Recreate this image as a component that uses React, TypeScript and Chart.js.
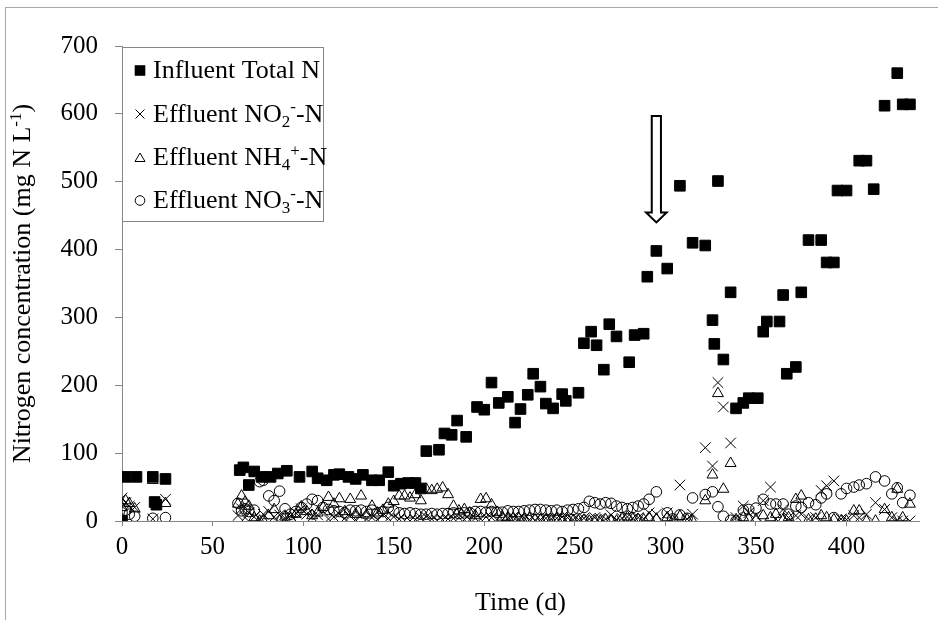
import React, { useEffect, useRef } from 'react';
import { Chart, registerables } from 'chart.js';

Chart.register(...registerables);

const FONT = "'Liberation Serif', 'Times New Roman', serif";

// Influent total nitrogen (day of operation, mg N/L)
const influentDays = [
  0, 2, 8, 17, 18, 19, 24,
  65, 67, 70, 73, 77, 82, 86, 91, 98, 105, 108, 113, 117, 120, 125, 129, 133, 138, 142, 147, 150, 154, 158, 162, 165,
  168, 175, 178, 182, 185, 190, 196, 200, 204, 208, 213, 217, 220, 224, 227, 231, 234, 238, 243, 245, 252,
  255, 259, 262, 266, 269, 273, 280, 283, 288,
  290, 295, 301, 308, 315, 322, 326, 327, 329, 332, 336,
  339, 343, 346, 351, 354, 356, 363, 365, 367, 372, 375,
  379, 386, 389, 393, 395, 400, 407, 411, 415, 421, 428, 431, 435,
];
const influentTotalN = [
  0, 65, 65, 65, 28, 24, 62,
  75, 79, 53, 73, 65, 65, 70, 74, 65, 73, 63, 60, 68, 69, 65, 62, 68, 60, 60, 72, 52, 55, 56, 56, 48,
  103, 105, 129, 127, 148, 124, 168, 164, 204, 174, 183, 145, 165, 186, 217, 198, 173, 166, 187, 177, 189,
  262, 279, 259, 223, 290, 272, 234, 274, 276,
  360, 398, 372, 494, 410, 406, 296, 261, 501, 238, 337,
  166, 174, 181, 181, 279, 294, 294, 333, 217, 227, 337,
  414, 414, 381, 381, 487, 487, 531, 531, 489, 612, 660, 614, 614,
];

// Effluent sampling days and concentrations (mg N/L)
const effluentDays = [
  0, 2, 4, 7, 17, 24,
  64, 66, 68, 70, 73, 76, 78, 81, 84, 87, 90, 93, 96, 99, 102, 105, 108, 111, 114, 117, 120, 123, 126, 129, 132, 135, 138, 141, 144, 147, 150,
  153, 156, 159, 162, 165, 168, 171, 174, 177, 180, 183, 186, 189, 192, 195, 198, 201, 204, 207, 210, 213, 216, 219, 222, 225, 228, 231, 234, 237, 240, 243, 246, 249, 252, 255, 258, 261, 264, 267, 270, 273, 276, 279, 282, 285, 288, 291,
  295, 301, 304, 308, 312, 315, 322, 326, 329, 332, 336, 339, 343, 346, 350, 354, 358, 361, 365, 368, 372, 375, 379, 383, 386, 389, 393, 397, 400, 404, 407, 411, 416, 421, 425, 428, 431, 435,
];
const effluentNO2 = [
  34, 27, 22, 20, 3, 32,
  8, 18, 5, 12, 6, 3, 10, 14, 6, 9, 4, 8, 12, 18, 10, 6, 9, 14, 3, 6, 10, 4, 7, 2, 8, 3, 5, 2, 9, 4, 6,
  3, 1, 0, 2, 5, 6, 3, 1, 2, 3, 4, 5, 2, 2, 4, 3, 6, 5, 2, 2, 4, 6, 3, 4, 2, 1, 2, 4, 3, 4, 6, 5, 2, 2, 4, 3, 5, 4, 3, 9, 2, 4, 6, 4, 5, 3, 12,
  10, 12, 3, 53, 3, 10, 108, 81, 204, 168, 115, 5, 22, 12, 8, 30, 50, 3, 17, 5, 8, 10, 3, 5, 45, 52, 59, 3, 2, 8, 5, 10, 27, 17, 5, 0, 0, 0,
];
const effluentNH4 = [
  20, 30, 26, 18, 60, 26,
  25, 37, 28, 22, 5, 0, 0, 8, 17, 0, 6, 4, 10, 21, 14, 8, 12, 20, 35, 25, 33, 14, 32, 10, 37, 9, 22, 12, 16, 25, 29,
  37, 37, 34, 39, 30, 47, 45, 47, 49, 39, 22, 15, 17, 12, 8, 32, 33, 24, 13, 6, 5, 4, 4, 3, 4, 2, 2, 2, 1, 3, 2, 2, 0, 0, 1, 0, 0, 0, 2, 0, 0, 4, 6, 3, 2, 2, 5,
  3, 5, 0, 7, 2, 0, 30, 68, 188, 47, 85, 2, 5, 3, 2, 8, 5, 10, 2, 5, 32, 37, 2, 3, 8, 5, 2, 0, 0, 15, 15, 0, 0, 17, 5, 47, 5, 25,
];
const effluentNO3 = [
  12, 16, 10, 7, 4, 5,
  26, 15, 18, 14, 16, 58, 60, 37, 30, 44, 18, 10, 14, 20, 25, 32, 30, 20, 17, 15, 14, 12, 16, 15, 16, 14, 16, 12, 14, 20, 15,
  12, 11, 12, 11, 10, 10, 11, 10, 11, 11, 12, 11, 12, 12, 14, 14, 13, 14, 13, 13, 15, 14, 14, 15, 16, 17, 17, 16, 15, 16, 14, 16, 17, 18, 20, 29, 27, 25, 27, 26, 22, 20, 18, 20, 22, 25, 32,
  43, 12, 3, 9, 4, 34, 39, 43, 21, 7, 1, 0, 16, 17, 19, 32, 25, 25, 25, 10, 22, 20, 27, 24, 34, 40, 5, 40, 48, 50, 53, 55, 65, 59, 40, 49, 27, 38,
];

// Axis ticks
const xTickValues = [0, 50, 100, 150, 200, 250, 300, 350, 400];
const yTickValues = [0, 100, 200, 300, 400, 500, 600, 700];
const xAxisMax = 440;

// Day marked by the arrow, and the span it covers (mg N/L)
const arrowDay = 295;
const arrowFromValue = 597;
const arrowToValue = 440;

type Part = { t: string; sub?: boolean; sup?: boolean };
const legendEntries: { marker: string; parts: Part[] }[] = [
  { marker: 'square', parts: [{ t: 'Influent Total N' }] },
  { marker: 'cross', parts: [{ t: 'Effluent NO' }, { t: '2', sub: true }, { t: '-', sup: true }, { t: '-N' }] },
  { marker: 'triangle', parts: [{ t: 'Effluent NH' }, { t: '4', sub: true }, { t: '+', sup: true }, { t: '-N' }] },
  { marker: 'circle', parts: [{ t: 'Effluent NO' }, { t: '3', sub: true }, { t: '-', sup: true }, { t: '-N' }] },
];

const yTitleParts: Part[] = [
  { t: 'Nitrogen concentration (mg N L' },
  { t: '-1', sup: true },
  { t: ')' },
];

const TICK_SIZE = 25;
const TEXT_SIZE = 26;
const AXIS_GREY = '#868686';

function partFont(p: Part, size: number) {
  const s = p.sub || p.sup ? Math.round(size * 0.65) : size;
  return `${s}px ${FONT}`;
}

function richWidth(ctx: CanvasRenderingContext2D, parts: Part[], size: number) {
  let w = 0;
  for (const p of parts) {
    ctx.font = partFont(p, size);
    w += ctx.measureText(p.t).width;
  }
  return w;
}

function drawRich(ctx: CanvasRenderingContext2D, parts: Part[], x: number, baseline: number, size: number) {
  let cx = x;
  ctx.textAlign = 'left';
  ctx.textBaseline = 'alphabetic';
  for (const p of parts) {
    ctx.font = partFont(p, size);
    const dy = p.sub ? size * 0.2 : p.sup ? -size * 0.36 : 0;
    ctx.fillText(p.t, cx, baseline + dy);
    cx += ctx.measureText(p.t).width;
  }
}

function drawLegendMarker(ctx: CanvasRenderingContext2D, kind: string, x: number, y: number) {
  ctx.save();
  ctx.strokeStyle = '#000';
  ctx.fillStyle = '#000';
  ctx.lineWidth = 1;
  ctx.beginPath();
  if (kind === 'square') {
    ctx.fillRect(x - 5.3, y - 5.3, 10.6, 10.6);
  } else if (kind === 'cross') {
    ctx.moveTo(x - 4.5, y - 4.5);
    ctx.lineTo(x + 4.5, y + 4.5);
    ctx.moveTo(x + 4.5, y - 4.5);
    ctx.lineTo(x - 4.5, y + 4.5);
    ctx.stroke();
  } else if (kind === 'triangle') {
    ctx.moveTo(x, y - 4.5);
    ctx.lineTo(x + 5, y + 4);
    ctx.lineTo(x - 5, y + 4);
    ctx.closePath();
    ctx.stroke();
  } else {
    ctx.arc(x, y, 4.8, 0, Math.PI * 2);
    ctx.stroke();
  }
  ctx.restore();
}

const overlayPlugin = {
  id: 'overlay',
  afterDraw(chart: any) {
    const { ctx, chartArea, scales } = chart;
    const xs = scales.x;
    const ys = scales.y;
    ctx.save();

    // Hollow arrow marking the change in operation
    const ax = xs.getPixelForValue(arrowDay);
    const aTop = ys.getPixelForValue(arrowFromValue);
    const aTip = ys.getPixelForValue(arrowToValue);
    const shaftHalf = 4.6;
    const headHalf = 10.3;
    const headLen = 10;
    ctx.beginPath();
    ctx.moveTo(ax - shaftHalf, aTop);
    ctx.lineTo(ax + shaftHalf, aTop);
    ctx.lineTo(ax + shaftHalf, aTip - headLen);
    ctx.lineTo(ax + headHalf, aTip - headLen);
    ctx.lineTo(ax, aTip);
    ctx.lineTo(ax - headHalf, aTip - headLen);
    ctx.lineTo(ax - shaftHalf, aTip - headLen);
    ctx.closePath();
    ctx.fillStyle = '#fff';
    ctx.fill();
    ctx.lineWidth = 2;
    ctx.strokeStyle = '#000';
    ctx.lineJoin = 'miter';
    ctx.stroke();

    // Legend box
    const lx = chartArea.left;
    const ly = chartArea.top + 1;
    const lw = 201;
    const lh = 174;
    ctx.fillStyle = '#fff';
    ctx.fillRect(lx, ly, lw, lh);
    ctx.strokeStyle = AXIS_GREY;
    ctx.lineWidth = 1;
    ctx.strokeRect(lx + 0.5, ly + 0.5, lw, lh);
    const rowBaselines = [31, 74.5, 118, 161];
    legendEntries.forEach((e, i) => {
      const base = ly + rowBaselines[i];
      drawLegendMarker(ctx, e.marker, lx + 18, base - 7.5);
      ctx.fillStyle = '#000';
      drawRich(ctx, e.parts, lx + 31, base, TEXT_SIZE);
    });

    // Rotated y-axis title with superscript
    const tw = richWidth(ctx, yTitleParts, TEXT_SIZE);
    const cy = (chartArea.top + chartArea.bottom) / 2;
    ctx.translate(22, cy);
    ctx.rotate(-Math.PI / 2);
    ctx.fillStyle = '#000';
    drawRich(ctx, yTitleParts, -tw / 2, TEXT_SIZE * 0.32, TEXT_SIZE);

    ctx.restore();
  },
};

export default function App() {
  const canvasRef = useRef<HTMLCanvasElement | null>(null);

  useEffect(() => {
    const canvas = canvasRef.current;
    if (!canvas) return;
    const toPoints = (days: number[], vals: number[]) => days.map((d, i) => ({ x: d, y: vals[i] }));

    const chart = new Chart(canvas, {
      type: 'scatter',
      data: {
        datasets: [
          {
            label: 'Influent Total N',
            data: toPoints(influentDays, influentTotalN),
            pointStyle: 'rect',
            pointRadius: 7.5,
            backgroundColor: '#000',
            borderColor: '#000',
            borderWidth: 1,
          },
          {
            label: 'Effluent NO2- -N',
            data: toPoints(effluentDays, effluentNO2),
            pointStyle: 'crossRot',
            pointRadius: 7.5,
            backgroundColor: 'rgba(0,0,0,0)',
            borderColor: '#000',
            borderWidth: 1,
          },
          {
            label: 'Effluent NH4+ -N',
            data: toPoints(effluentDays, effluentNH4),
            pointStyle: 'triangle',
            pointRadius: 6.3,
            backgroundColor: 'rgba(0,0,0,0)',
            borderColor: '#000',
            borderWidth: 1,
          },
          {
            label: 'Effluent NO3- -N',
            data: toPoints(effluentDays, effluentNO3),
            pointStyle: 'circle',
            pointRadius: 5.3,
            backgroundColor: 'rgba(0,0,0,0)',
            borderColor: '#000',
            borderWidth: 1,
          },
        ],
      },
      options: {
        animation: false,
        responsive: false,
        devicePixelRatio: 1,
        events: [],
        layout: { padding: { top: 46, right: 19, bottom: 0, left: 0 } },
        plugins: {
          legend: { display: false },
          tooltip: { enabled: false },
        },
        scales: {
          x: {
            type: 'linear',
            min: 0,
            max: xAxisMax,
            afterBuildTicks: (scale: any) => {
              scale.ticks = xTickValues.map((v) => ({ value: v }));
            },
            afterFit: (scale: any) => {
              scale.height = 99;
            },
            ticks: {
              color: '#000',
              font: { family: FONT, size: TICK_SIZE },
              padding: 6,
              maxRotation: 0,
              autoSkip: false,
            },
            grid: {
              display: true,
              drawOnChartArea: false,
              drawTicks: true,
              tickLength: 5,
              color: AXIS_GREY,
              lineWidth: 1,
            },
            border: { display: true, color: AXIS_GREY, width: 1 },
            title: {
              display: true,
              text: 'Time (d)',
              color: '#000',
              font: { family: FONT, size: TEXT_SIZE },
              padding: { top: 0, bottom: 1 },
            },
          },
          y: {
            type: 'linear',
            min: 0,
            max: 700,
            afterBuildTicks: (scale: any) => {
              scale.ticks = yTickValues.map((v) => ({ value: v }));
            },
            afterFit: (scale: any) => {
              scale.width = 122;
            },
            ticks: {
              color: '#000',
              font: { family: FONT, size: TICK_SIZE },
              padding: 17,
              autoSkip: false,
            },
            grid: {
              display: true,
              drawOnChartArea: false,
              drawTicks: true,
              tickLength: 7,
              color: AXIS_GREY,
              lineWidth: 1,
            },
            border: { display: true, color: AXIS_GREY, width: 1 },
            title: { display: false },
          },
        },
      },
      plugins: [overlayPlugin],
    } as any);

    return () => chart.destroy();
  }, []);

  return (
    <div
      style={{
        position: 'absolute',
        left: 0,
        top: 0,
        width: 938,
        height: 620,
        overflow: 'hidden',
        background: '#fff',
      }}
    >
      <div
        style={{
          position: 'absolute',
          left: 5,
          top: 7,
          width: 960,
          height: 640,
          borderLeft: '1px solid #a8a8a8',
          borderTop: '1px solid #a8a8a8',
        }}
      />
      <canvas
        ref={canvasRef}
        width={938}
        height={620}
        style={{ position: 'absolute', left: 0, top: 0, width: 938, height: 620 }}
      />
    </div>
  );
}
